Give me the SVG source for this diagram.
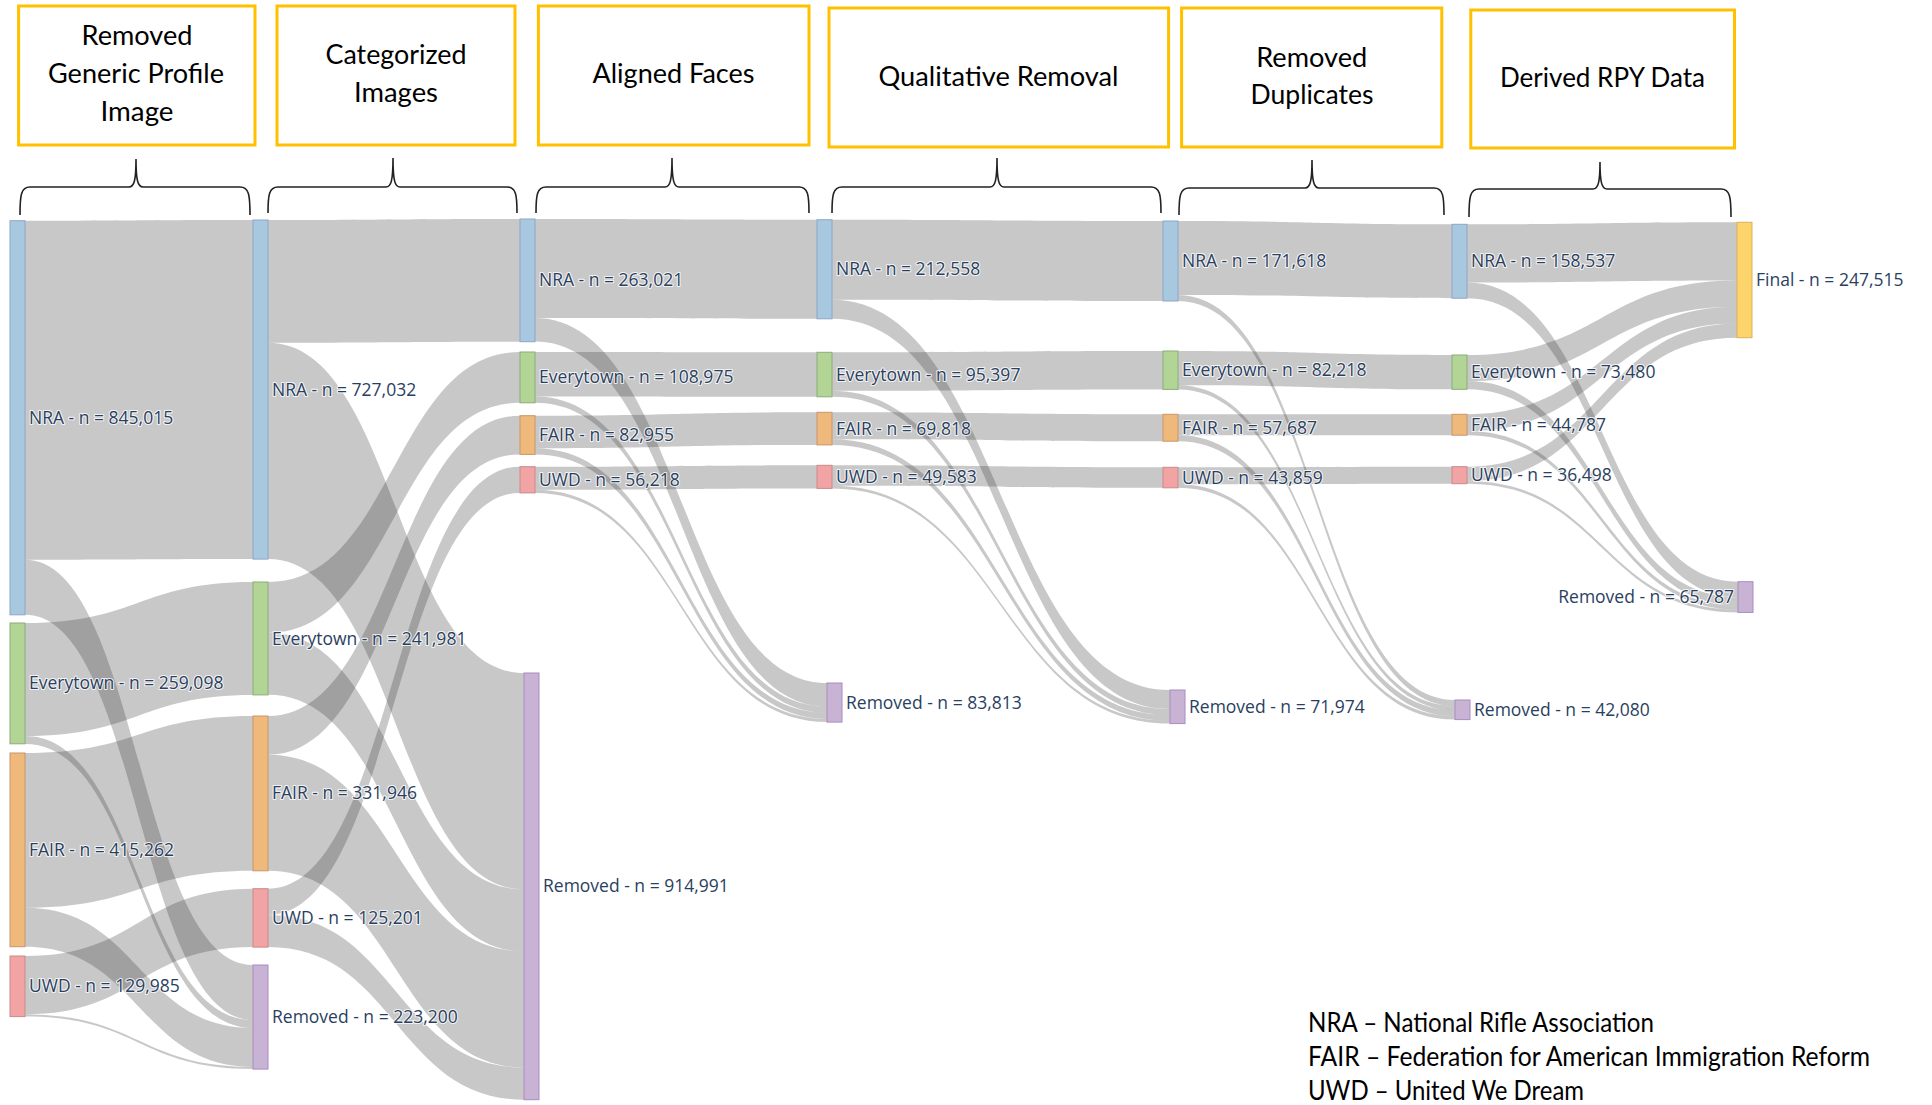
<svg xmlns="http://www.w3.org/2000/svg" width="1932" height="1105" viewBox="0 0 1932 1105">
<style>
.bg{fill:#fff}
.hbox{fill:#fff;stroke:#ffc000;stroke-width:3}
.ht{font-family:Lato,"Open Sans","Liberation Sans",sans-serif;font-size:26px;fill:#000;text-anchor:middle}
.lg{font-family:Lato,"Open Sans","Liberation Sans",sans-serif;font-size:26px;fill:#000}
.brace{fill:none;stroke:#222;stroke-width:1.6}
.lk{fill:rgba(50,50,50,0.27);stroke:none}
.lb{font-family:"Open Sans","DejaVu Sans",sans-serif;font-size:17.5px;fill:#2a3f5f;paint-order:stroke fill;stroke:#fff;stroke-width:2.2;stroke-opacity:.8;stroke-linejoin:round}
.end{text-anchor:end}
.nra{fill:#a8c8df;stroke:#8ea6c8;stroke-width:1}
.evt{fill:#b2d596;stroke:#8cab7a;stroke-width:1}
.fair{fill:#efb97b;stroke:#c9956a;stroke-width:1}
.uwd{fill:#f2a3a3;stroke:#c98a8a;stroke-width:1}
.rem{fill:#c8b3d5;stroke:#a98cc0;stroke-width:1}
.fin{fill:#fdd36c;stroke:#d8b25a;stroke-width:1}
</style>
<rect class="bg" x="0" y="0" width="1932" height="1105"/>

<g id="headers">
<g id="h1"><rect class="hbox" x="18.6" y="6" width="236.4" height="139"/>
<text class="ht" x="137" y="45" textLength="111" lengthAdjust="spacingAndGlyphs">Removed</text>
<text class="ht" x="136" y="83" textLength="176" lengthAdjust="spacingAndGlyphs">Generic Profile</text>
<text class="ht" x="137" y="121" textLength="73" lengthAdjust="spacingAndGlyphs">Image</text></g>
<g id="h2"><rect class="hbox" x="277" y="6" width="238" height="139"/>
<text class="ht" x="396" y="64" textLength="141" lengthAdjust="spacingAndGlyphs">Categorized</text>
<text class="ht" x="396" y="102" textLength="84" lengthAdjust="spacingAndGlyphs">Images</text></g>
<g id="h3"><rect class="hbox" x="538.4" y="6" width="270.6" height="139"/>
<text class="ht" x="673.5" y="83" textLength="162" lengthAdjust="spacingAndGlyphs">Aligned Faces</text></g>
<g id="h4"><rect class="hbox" x="829" y="8" width="339.6" height="139"/>
<text class="ht" x="998.5" y="86" textLength="240" lengthAdjust="spacingAndGlyphs">Qualitative Removal</text></g>
<g id="h5"><rect class="hbox" x="1181.6" y="8" width="260.2" height="139"/>
<text class="ht" x="1311.7" y="67" textLength="111" lengthAdjust="spacingAndGlyphs">Removed</text>
<text class="ht" x="1312" y="104" textLength="123" lengthAdjust="spacingAndGlyphs">Duplicates</text></g>
<g id="h6"><rect class="hbox" x="1470.8" y="10" width="263.7" height="138"/>
<text class="ht" x="1602.5" y="87" textLength="205" lengthAdjust="spacingAndGlyphs">Derived RPY Data</text></g>
</g>

<g id="braces">
<path class="brace" d="M20,215 C20,195 21,187 30,187 L129,187 C134,187 136,181 136,159 C136,181 138,187 143,187 L240,187 C249,187 250,195 250,215"/>
<path class="brace" d="M268,213 C268,195 269,187 278,187 L386,187 C391,187 393,181 393,158 C393,181 395,187 400,187 L507,187 C516,187 517,195 517,213"/>
<path class="brace" d="M536,213 C536,195 537,187 546,187 L665,187 C670,187 672,181 672,158 C672,181 674,187 679,187 L799,187 C808,187 809,195 809,213"/>
<path class="brace" d="M832,213 C832,195 833,187 842,187 L990,187 C995,187 997,181 997,158 C997,181 999,187 1004,187 L1151,187 C1160,187 1161,195 1161,213"/>
<path class="brace" d="M1179,215 C1179,196 1180,188 1189,188 L1305,188 C1310,188 1312,182 1312,160 C1312,182 1314,188 1319,188 L1434,188 C1443,188 1444,196 1444,215"/>
<path class="brace" d="M1469,217 C1469,197 1470,189 1479,189 L1593,189 C1598,189 1600,183 1600,162 C1600,183 1602,189 1607,189 L1721,189 C1730,189 1731,197 1731,217"/>
</g>

<g id="connectors">
<path class="lk" d="M25,220.7 C139,220.7 139,220 253,220 L253,559.1 C139,559.1 139,559.8 25,559.8Z"/>
<path class="lk" d="M25,559.8 C139,559.8 139,965 253,965 L253,1020 C139,1020 139,614.8 25,614.8Z"/>
<path class="lk" d="M25,623 C139,623 139,582 253,582 L253,694.9 C139,694.9 139,735.9 25,735.9Z"/>
<path class="lk" d="M25,735.9 C139,735.9 139,1020 253,1020 L253,1028 C139,1028 139,743.9 25,743.9Z"/>
<path class="lk" d="M25,753 C139,753 139,716 253,716 L253,870.8 C139,870.8 139,907.8 25,907.8Z"/>
<path class="lk" d="M25,907.8 C139,907.8 139,1028 253,1028 L253,1066.9 C139,1066.9 139,946.7 25,946.7Z"/>
<path class="lk" d="M25,956 C139,956 139,888.7 253,888.7 L253,947.1 C139,947.1 139,1014.4 25,1014.4Z"/>
<path class="lk" d="M25,1014.4 C139,1014.4 139,1066.9 253,1066.9 L253,1069.1 C139,1069.1 139,1016.6 25,1016.6Z"/>

<path class="lk" d="M268,220 C394,220 394,219 520,219 L520,341.7 C394,341.7 394,342.7 268,342.7Z"/>
<path class="lk" d="M268,342.7 C396,342.7 396,673 524,673 L524,889.4 C396,889.4 396,559.1 268,559.1Z"/>
<path class="lk" d="M268,582 C394,582 394,352 520,352 L520,402.8 C394,402.8 394,632.8 268,632.8Z"/>
<path class="lk" d="M268,632.8 C396,632.8 396,889.4 524,889.4 L524,951.4 C396,951.4 396,694.8 268,694.8Z"/>
<path class="lk" d="M268,716 C394,716 394,415.7 520,415.7 L520,454.4 C394,454.4 394,754.7 268,754.7Z"/>
<path class="lk" d="M268,754.7 C396,754.7 396,951.4 524,951.4 L524,1067.5 C396,1067.5 396,870.8 268,870.8Z"/>
<path class="lk" d="M268,888.7 C394,888.7 394,466.7 520,466.7 L520,492.9 C394,492.9 394,914.9 268,914.9Z"/>
<path class="lk" d="M268,914.9 C396,914.9 396,1067.5 524,1067.5 L524,1099.7 C396,1099.7 396,947.1 268,947.1Z"/>

<path class="lk" d="M535,219 C676,219 676,219.7 817,219.7 L817,318.8 C676,318.8 676,318.1 535,318.1Z"/>
<path class="lk" d="M535,318.1 C681,318.1 681,683 827,683 L827,706.5 C681,706.5 681,341.6 535,341.6Z"/>
<path class="lk" d="M535,352 C676,352 676,352.3 817,352.3 L817,396.8 C676,396.8 676,396.5 535,396.5Z"/>
<path class="lk" d="M535,396.5 C681,396.5 681,706.5 827,706.5 L827,712.8 C681,712.8 681,402.8 535,402.8Z"/>
<path class="lk" d="M535,415.7 C676,415.7 676,412.3 817,412.3 L817,444.9 C676,444.9 676,448.3 535,448.3Z"/>
<path class="lk" d="M535,448.3 C681,448.3 681,712.8 827,712.8 L827,718.9 C681,718.9 681,454.4 535,454.4Z"/>
<path class="lk" d="M535,466.7 C676,466.7 676,465.3 817,465.3 L817,488.4 C676,488.4 676,489.8 535,489.8Z"/>
<path class="lk" d="M535,489.8 C681,489.8 681,718.9 827,718.9 L827,722 C681,722 681,492.9 535,492.9Z"/>

<path class="lk" d="M832,219.7 C997,219.7 997,221 1163,221 L1163,301 C997,301 997,299.7 832,299.7Z"/>
<path class="lk" d="M832,299.7 C1001,299.7 1001,690 1170,690 L1170,709.1 C1001,709.1 1001,318.8 832,318.8Z"/>
<path class="lk" d="M832,352.3 C997,352.3 997,351 1163,351 L1163,389.4 C997,389.4 997,390.7 832,390.7Z"/>
<path class="lk" d="M832,390.7 C1001,390.7 1001,709.1 1170,709.1 L1170,715.2 C1001,715.2 1001,396.8 832,396.8Z"/>
<path class="lk" d="M832,412.3 C997,412.3 997,414.3 1163,414.3 L1163,441.2 C997,441.2 997,439.2 832,439.2Z"/>
<path class="lk" d="M832,439.2 C1001,439.2 1001,715.2 1170,715.2 L1170,720.9 C1001,720.9 1001,444.9 832,444.9Z"/>
<path class="lk" d="M832,465.3 C997,465.3 997,467.3 1163,467.3 L1163,487.8 C997,487.8 997,485.8 832,485.8Z"/>
<path class="lk" d="M832,485.8 C1001,485.8 1001,720.9 1170,720.9 L1170,723.6 C1001,723.6 1001,488.5 832,488.5Z"/>

<path class="lk" d="M1178,221 C1315,221 1315,224.3 1452,224.3 L1452,298.2 C1315,298.2 1315,294.9 1178,294.9Z"/>
<path class="lk" d="M1178,294.9 C1316,294.9 1316,700 1455,700 L1455,706.1 C1316,706.1 1316,301 1178,301Z"/>
<path class="lk" d="M1178,351 C1315,351 1315,355 1452,355 L1452,389.3 C1315,389.3 1315,385.3 1178,385.3Z"/>
<path class="lk" d="M1178,385.3 C1316,385.3 1316,706.1 1455,706.1 L1455,710.2 C1316,710.2 1316,389.4 1178,389.4Z"/>
<path class="lk" d="M1178,414.3 C1315,414.3 1315,414.3 1452,414.3 L1452,435.2 C1315,435.2 1315,435.2 1178,435.2Z"/>
<path class="lk" d="M1178,435.2 C1316,435.2 1316,710.2 1455,710.2 L1455,716.2 C1316,716.2 1316,441.2 1178,441.2Z"/>
<path class="lk" d="M1178,467.3 C1315,467.3 1315,466.7 1452,466.7 L1452,483.7 C1315,483.7 1315,484.3 1178,484.3Z"/>
<path class="lk" d="M1178,484.3 C1316,484.3 1316,716.2 1455,716.2 L1455,719.6 C1316,719.6 1316,487.7 1178,487.7Z"/>

<path class="lk" d="M1467,224.3 C1602,224.3 1602,222.3 1737,222.3 L1737,280.6 C1602,280.6 1602,282.6 1467,282.6Z"/>
<path class="lk" d="M1467,282.6 C1602,282.6 1602,581.7 1738,581.7 L1738,597.3 C1602,597.3 1602,298.2 1467,298.2Z"/>
<path class="lk" d="M1467,355 C1602,355 1602,280.6 1737,280.6 L1737,306.7 C1602,306.7 1602,381.1 1467,381.1Z"/>
<path class="lk" d="M1467,381.1 C1602,381.1 1602,597.3 1738,597.3 L1738,605.5 C1602,605.5 1602,389.3 1467,389.3Z"/>
<path class="lk" d="M1467,414.3 C1602,414.3 1602,306.7 1737,306.7 L1737,323.5 C1602,323.5 1602,431.1 1467,431.1Z"/>
<path class="lk" d="M1467,431.1 C1602,431.1 1602,605.5 1738,605.5 L1738,609.6 C1602,609.6 1602,435.2 1467,435.2Z"/>
<path class="lk" d="M1467,466.7 C1602,466.7 1602,323.5 1737,323.5 L1737,337.7 C1602,337.7 1602,480.9 1467,480.9Z"/>
<path class="lk" d="M1467,480.9 C1602,480.9 1602,609.6 1738,609.6 L1738,612.4 C1602,612.4 1602,483.7 1467,483.7Z"/>
</g>

<g id="nodes">
<g id="n1-nra"><rect class="nra" x="10" y="220.7" width="15" height="394.1"/><text class="lb" x="29" y="423.8">NRA - n = 845,015</text></g>
<g id="n1-evt"><rect class="evt" x="10" y="623" width="15" height="120.8"/><text class="lb" x="29" y="689.4">Everytown - n = 259,098</text></g>
<g id="n1-fair"><rect class="fair" x="10" y="753" width="15" height="193.7"/><text class="lb" x="29" y="855.9">FAIR - n = 415,262</text></g>
<g id="n1-uwd"><rect class="uwd" x="10" y="956" width="15" height="60.6"/><text class="lb" x="29" y="992.3">UWD - n = 129,985</text></g>

<g id="n2-nra"><rect class="nra" x="253" y="220" width="15" height="339.1"/><text class="lb" x="272" y="395.6">NRA - n = 727,032</text></g>
<g id="n2-evt"><rect class="evt" x="253" y="582" width="15" height="112.9"/><text class="lb" x="272" y="644.5">Everytown - n = 241,981</text></g>
<g id="n2-fair"><rect class="fair" x="253" y="716" width="15" height="154.8"/><text class="lb" x="272" y="799.4">FAIR - n = 331,946</text></g>
<g id="n2-uwd"><rect class="uwd" x="253" y="888.7" width="15" height="58.4"/><text class="lb" x="272" y="923.9">UWD - n = 125,201</text></g>
<g id="n2-rem"><rect class="rem" x="253" y="965" width="15" height="104.1"/><text class="lb" x="272" y="1023">Removed - n = 223,200</text></g>

<g id="n3-nra"><rect class="nra" x="520" y="219" width="15" height="122.7"/><text class="lb" x="539" y="286.4">NRA - n = 263,021</text></g>
<g id="n3-evt"><rect class="evt" x="520" y="352" width="15" height="50.8"/><text class="lb" x="539" y="383.4">Everytown - n = 108,975</text></g>
<g id="n3-fair"><rect class="fair" x="520" y="415.7" width="15" height="38.7"/><text class="lb" x="539" y="441">FAIR - n = 82,955</text></g>
<g id="n3-uwd"><rect class="uwd" x="520" y="466.7" width="15" height="26.2"/><text class="lb" x="539" y="485.8">UWD - n = 56,218</text></g>
<g id="n3-rem"><rect class="rem" x="524" y="673" width="15" height="426.7"/><text class="lb" x="543" y="892.4">Removed - n = 914,991</text></g>

<g id="n4-nra"><rect class="nra" x="817" y="219.7" width="15" height="99.1"/><text class="lb" x="836" y="275.3">NRA - n = 212,558</text></g>
<g id="n4-evt"><rect class="evt" x="817" y="352.3" width="15" height="44.5"/><text class="lb" x="836" y="380.6">Everytown - n = 95,397</text></g>
<g id="n4-fair"><rect class="fair" x="817" y="412.3" width="15" height="32.6"/><text class="lb" x="836" y="434.6">FAIR - n = 69,818</text></g>
<g id="n4-uwd"><rect class="uwd" x="817" y="465.3" width="15" height="23.1"/><text class="lb" x="836" y="482.9">UWD - n = 49,583</text></g>
<g id="n4-rem"><rect class="rem" x="827" y="683" width="15" height="39.1"/><text class="lb" x="846" y="708.6">Removed - n = 83,813</text></g>

<g id="n5-nra"><rect class="nra" x="1163" y="221" width="15" height="80"/><text class="lb" x="1182" y="267">NRA - n = 171,618</text></g>
<g id="n5-evt"><rect class="evt" x="1163" y="351" width="15" height="38.4"/><text class="lb" x="1182" y="376.2">Everytown - n = 82,218</text></g>
<g id="n5-fair"><rect class="fair" x="1163" y="414.3" width="15" height="26.9"/><text class="lb" x="1182" y="433.8">FAIR - n = 57,687</text></g>
<g id="n5-uwd"><rect class="uwd" x="1163" y="467.3" width="15" height="20.5"/><text class="lb" x="1182" y="483.6">UWD - n = 43,859</text></g>
<g id="n5-rem"><rect class="rem" x="1170" y="690" width="15" height="33.6"/><text class="lb" x="1189" y="712.8">Removed - n = 71,974</text></g>

<g id="n6-nra"><rect class="nra" x="1452" y="224.3" width="15" height="73.9"/><text class="lb" x="1471" y="267.3">NRA - n = 158,537</text></g>
<g id="n6-evt"><rect class="evt" x="1452" y="355" width="15" height="34.3"/><text class="lb" x="1471" y="378.2">Everytown - n = 73,480</text></g>
<g id="n6-fair"><rect class="fair" x="1452" y="414.3" width="15" height="20.9"/><text class="lb" x="1471" y="430.8">FAIR - n = 44,787</text></g>
<g id="n6-uwd"><rect class="uwd" x="1452" y="466.7" width="15" height="17"/><text class="lb" x="1471" y="481.2">UWD - n = 36,498</text></g>
<g id="n6-rem"><rect class="rem" x="1455" y="700" width="15" height="19.6"/><text class="lb" x="1474" y="715.8">Removed - n = 42,080</text></g>

<g id="n7-final"><rect class="fin" x="1737" y="222.3" width="15" height="115.4"/><text class="lb" x="1756" y="286">Final - n = 247,515</text></g>
<g id="n7-rem"><rect class="rem" x="1738" y="581.7" width="15" height="30.7"/><text class="lb end" x="1734" y="603">Removed - n = 65,787</text></g>
</g>

<g id="legend">
<text class="lg" x="1308" y="1031.5" textLength="346" lengthAdjust="spacingAndGlyphs">NRA – National Rifle Association</text>
<text class="lg" x="1308" y="1066" textLength="562" lengthAdjust="spacingAndGlyphs">FAIR – Federation for American Immigration Reform</text>
<text class="lg" x="1308" y="1100" textLength="276" lengthAdjust="spacingAndGlyphs">UWD – United We Dream</text>
</g>
</svg>
